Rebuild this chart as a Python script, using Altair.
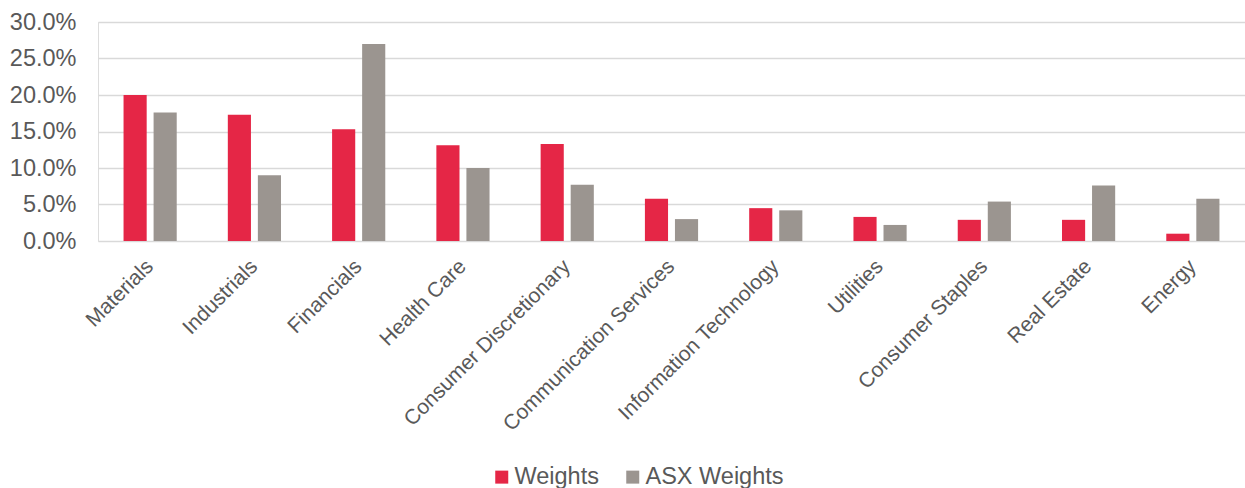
import altair as alt
import pandas as pd

sectors = ["Materials", "Industrials", "Financials", "Health Care",
           "Consumer Discretionary", "Communication Services",
           "Information Technology", "Utilities", "Consumer Staples",
           "Real Estate", "Energy"]
weights = [20.0, 17.3, 15.3, 13.1, 13.3, 5.8, 4.5, 3.3, 2.9, 2.9, 1.0]
asx_weights = [17.6, 9.0, 27.0, 10.0, 7.7, 3.0, 4.2, 2.2, 5.4, 7.6, 5.8]
series = ["Weights", "ASX Weights"]
colors = ["#E52646", "#9B9590"]

rows = []
for s, w, a in zip(sectors, weights, asx_weights):
    rows.append({"Sector": s, "Series": series[0], "Value": w / 100})
    rows.append({"Sector": s, "Series": series[1], "Value": a / 100})
df = pd.DataFrame(rows)

FONT = "Liberation Sans"
TXT = "#595959"

chart = alt.Chart(df).mark_bar().encode(
    x=alt.X("Sector:N", sort=sectors, title=None,
            scale=alt.Scale(paddingInner=0.49, paddingOuter=0.245),
            axis=alt.Axis(labelAngle=-45, labelFontSize=21, labelFont=FONT,
                          labelColor=TXT, ticks=False, domain=False,
                          labelAlign="right", labelBaseline="middle",
                          labelPadding=22, labelLimit=0, grid=False)),
    xOffset=alt.XOffset("Series:N", sort=series,
                        scale=alt.Scale(paddingInner=0.23, paddingOuter=0)),
    y=alt.Y("Value:Q", title=None,
            scale=alt.Scale(domain=[0, 0.30], nice=False),
            axis=alt.Axis(format=".1%", values=[0, 0.05, 0.10, 0.15, 0.20, 0.25, 0.30],
                          labelFontSize=23.5, labelFont=FONT, labelColor=TXT,
                          ticks=False, domain=False, labelPadding=22,
                          gridColor="#D9D9D9", gridWidth=1.5)),
    color=alt.Color("Series:N", sort=series,
                    scale=alt.Scale(domain=series, range=colors),
                    legend=alt.Legend(title=None, orient="none", direction="horizontal",
                                      legendX=392, legendY=443, padding=0,
                                      symbolType="square", symbolSize=169,
                                      symbolStrokeWidth=0,
                                      labelFontSize=23.5, labelFont=FONT, labelColor=TXT,
                                      labelOffset=1, columnPadding=22)),
).properties(
    width=1147, height=219,
    autosize=alt.AutoSizeParams(type="none"),
    padding={"left": 98, "top": 22, "right": 0, "bottom": 247},
).configure_view(stroke=None, strokeWidth=0).configure(background="white")

chart.save("out.html", embed_options={"renderer": "svg", "actions": False})
